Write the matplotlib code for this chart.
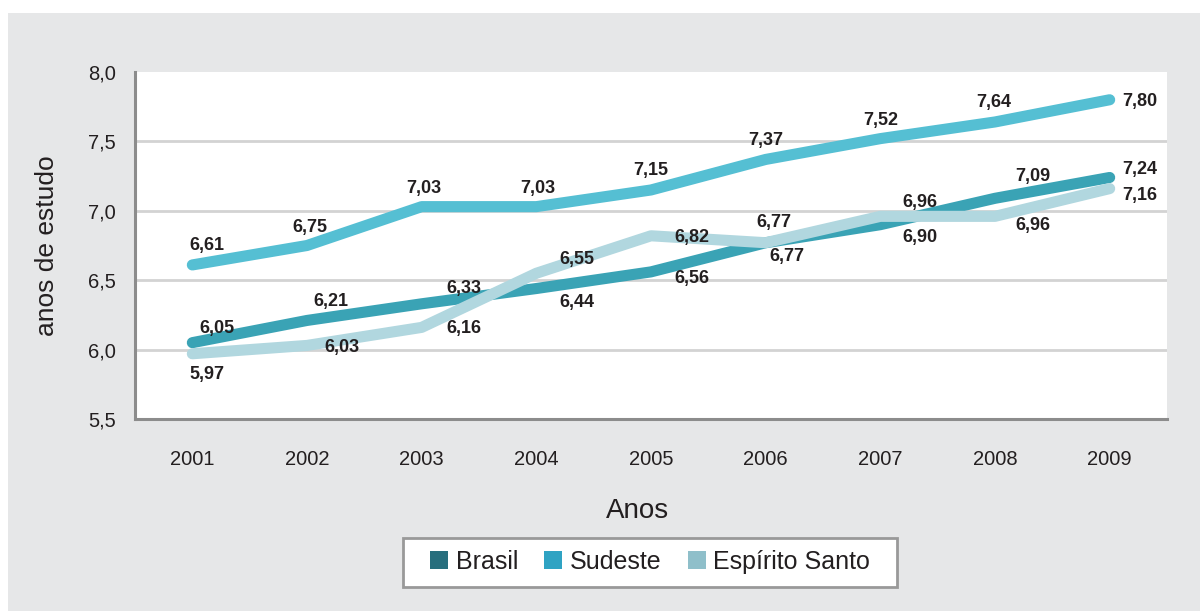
import matplotlib
matplotlib.use("Agg")
import matplotlib.pyplot as plt
from matplotlib.patches import Rectangle, Patch

plt.rcParams['font.family'] = ['Liberation Sans', 'DejaVu Sans']

# data
anos = [2001, 2002, 2003, 2004, 2005, 2006, 2007, 2008, 2009]
brasil = [6.05, 6.21, 6.33, 6.44, 6.56, 6.77, 6.90, 7.09, 7.24]
sudeste = [6.61, 6.75, 7.03, 7.03, 7.15, 7.37, 7.52, 7.64, 7.80]
esp_santo = [5.97, 6.03, 6.16, 6.55, 6.82, 6.77, 6.96, 6.96, 7.16]
yticks = [5.5, 6.0, 6.5, 7.0, 7.5, 8.0]

# label offsets in pixels (dx, dy up)
off_sudeste = [(15, 21), (3, 20), (2, 20), (1, 20), (0, 21), (0, 21), (0, 20), (-1, 21), (30, 0)]
off_brasil = [(25, 16), (24, 21), (42, 17), (41, -12), (41, -5), (21, -12), (40, -11), (38, 24), (30, 10)]
off_es = [(15, -19), (35, 0), (42, 1), (41, 16), (41, 0), (8, 22), (40, 16), (38, -7), (30, -5)]

fig = plt.figure(figsize=(12, 6.11), dpi=100, facecolor='white')
fig.patches.append(Rectangle((8 / 1200, 0), 1, 1 - 13 / 611, transform=fig.transFigure,
                             facecolor='#e6e7e8', edgecolor='none', zorder=-10))

ax = fig.add_axes([135 / 1200, 1 - 419 / 611, 1032 / 1200, 347 / 611])
ax.set_facecolor('white')

ax.plot(anos, sudeste, color='#55bfd3', lw=8, solid_capstyle='round', solid_joinstyle='round', zorder=3)
ax.plot(anos, brasil, color='#3aa3b5', lw=8, solid_capstyle='round', solid_joinstyle='round', zorder=4)
ax.plot(anos, esp_santo, color='#b1d7df', lw=8, solid_capstyle='round', solid_joinstyle='round', zorder=5)

for serie, offs in [(sudeste, off_sudeste), (brasil, off_brasil), (esp_santo, off_es)]:
    for x, y, (dx, dy) in zip(anos, serie, offs):
        ax.annotate(f"{y:.2f}".replace('.', ','), (x, y), xytext=(dx * 0.72, dy * 0.72),
                    textcoords='offset points', ha='center', va='center_baseline',
                    fontsize=13, fontweight='bold', color='#231f20', zorder=6)

ax.set_xlim(2000.5, 2009.5)
ax.set_ylim(5.5, 8.0)
ax.set_xticks(anos)
ax.set_yticks(yticks)
ax.set_yticklabels([f"{t:.1f}".replace('.', ',') for t in yticks])
ax.tick_params(length=0, labelsize=14.5, colors='#231f20')
ax.tick_params(axis='y', pad=14)
ax.tick_params(axis='x', pad=22)
ax.grid(axis='y', color='#d3d3d3', lw=2)
ax.yaxis.get_gridlines()[-1].set_visible(False)
ax.set_axisbelow(True)
for s in ['top', 'right']:
    ax.spines[s].set_visible(False)
for s in ['left', 'bottom']:
    ax.spines[s].set_color('#8c8c8c')
    ax.spines[s].set_linewidth(2.2)

ax.set_xlabel('Anos', fontsize=20, color='#231f20', labelpad=21)
ax.xaxis.label.set_x((637 - 135) / 1032)
ax.set_ylabel('anos de estudo', fontsize=19, color='#231f20', labelpad=21)

# legend with a hand drawn frame
fig.patches.append(Rectangle((403 / 1200, 1 - 587 / 611), 494 / 1200, 49 / 611,
                             transform=fig.transFigure, facecolor='white',
                             edgecolor='#999999', lw=2, zorder=1))
handles = [Patch(facecolor='#276e7d', label='Brasil'),
           Patch(facecolor='#2fa3c3', label='Sudeste'),
           Patch(facecolor='#8fbfca', label='Espírito Santo')]
leg = fig.legend(handles=handles, loc='center', bbox_to_anchor=(650 / 1200, 1 - 562 / 611),
                 ncol=3, fontsize=18, frameon=False, handlelength=0.72,
                 handleheight=0.72, handletextpad=0.3, columnspacing=1.05, borderpad=0,
                 borderaxespad=0)
leg.set_zorder(5)
for t in leg.get_texts():
    t.set_color('#231f20')

fig.savefig('out.png', dpi=100, facecolor=fig.get_facecolor())
